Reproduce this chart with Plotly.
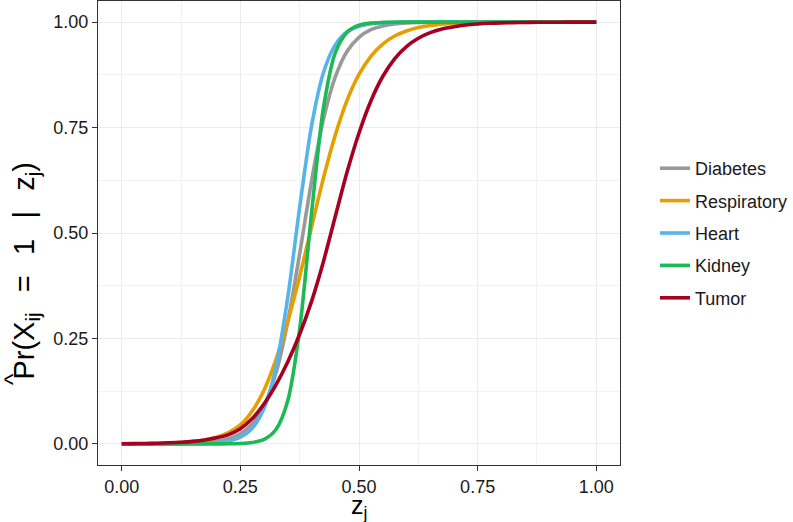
import plotly.graph_objects as go

z = [0.000, 0.025, 0.050, 0.075, 0.100, 0.125, 0.150, 0.175, 0.200, 0.225, 0.250,
     0.275, 0.300, 0.325, 0.350, 0.375, 0.400, 0.425, 0.450, 0.475, 0.500, 0.525,
     0.550, 0.575, 0.600, 0.625, 0.650, 0.675, 0.700, 0.725, 0.750, 0.775, 0.800,
     0.825, 0.850, 0.875, 0.900, 0.925, 0.950, 0.975, 1.000]

diabetes = [0.0000, 0.0001, 0.0001, 0.0002, 0.0004, 0.0007, 0.0015, 0.0030, 0.0061, 0.0121, 0.0241,
            0.0474, 0.0912, 0.168, 0.290, 0.451, 0.623, 0.769, 0.870, 0.931, 0.964, 0.982,
            0.991, 0.9955, 0.9978, 0.9989, 0.9994, 0.9997, 0.9999, 1.0, 1.0, 1.0, 1.0,
            1.0, 1.0, 1.0, 1.0, 1.0, 1.0, 1.0, 1.0]
respiratory = [0.0001, 0.0003, 0.0005, 0.0009, 0.0017, 0.0030, 0.0055, 0.0095, 0.0160, 0.0270, 0.0450,
               0.078, 0.128, 0.200, 0.291, 0.397, 0.514, 0.630, 0.732, 0.815, 0.876, 0.919,
               0.948, 0.967, 0.979, 0.987, 0.992, 0.9949, 0.9969, 0.998, 0.9988, 0.9992, 0.9995,
               0.9997, 0.9998, 0.9999, 0.9999, 0.9999, 0.9999, 1.0, 1.0]
heart = [0.0000, 0.0000, 0.0000, 0.0000, 0.0001, 0.0002, 0.0005, 0.0012, 0.0028, 0.0067, 0.0158,
         0.0372, 0.0847, 0.182, 0.348, 0.561, 0.754, 0.880, 0.946, 0.977, 0.990, 0.996,
         0.998, 0.9993, 0.9997, 1.0, 1.0, 1.0, 1.0, 1.0, 1.0, 1.0, 1.0,
         1.0, 1.0, 1.0, 1.0, 1.0, 1.0, 1.0, 1.0]
kidney = [0.0000, 0.0000, 0.0000, 0.0000, 0.0000, 0.0000, 0.0000, 0.0000, 0.0001, 0.0003, 0.0010,
          0.0034, 0.0109, 0.0342, 0.103, 0.272, 0.547, 0.796, 0.927, 0.976, 0.9925, 0.9977,
          0.9993, 0.9998, 1.0, 1.0, 1.0, 1.0, 1.0, 1.0, 1.0, 1.0, 1.0,
          1.0, 1.0, 1.0, 1.0, 1.0, 1.0, 1.0, 1.0]
tumor = [0.0004, 0.0007, 0.0011, 0.0017, 0.0026, 0.0040, 0.0061, 0.0094, 0.0145, 0.0220, 0.036,
         0.060, 0.095, 0.140, 0.195, 0.260, 0.338, 0.432, 0.539, 0.645, 0.737, 0.813,
         0.871, 0.913, 0.942, 0.9616, 0.975, 0.9837, 0.989, 0.9931, 0.9955, 0.9971, 0.9981,
         0.9988, 0.9992, 0.9995, 0.9997, 0.9998, 0.9999, 0.9999, 0.9999]

series_names = ["Diabetes", "Respiratory", "Heart", "Kidney", "Tumor"]
series_values = [diabetes, respiratory, heart, kidney, tumor]
colors = ["#999999", "#E69F00", "#56B4E9", "#1DB954", "#A50021"]
tick_vals = [0.0, 0.25, 0.5, 0.75, 1.0]
tick_text = ["0.00", "0.25", "0.50", "0.75", "1.00"]

FONT = "Liberation Sans, Arial, Helvetica, sans-serif"

fig = go.Figure()
for name, vals, col in zip(series_names, series_values, colors):
    fig.add_trace(go.Scatter(
        x=z, y=vals, mode="lines", name=name, legendgroup=name,
        line=dict(color=col, width=3.6, shape="spline", smoothing=0.8),
    ))

axis_common = dict(
    range=[-0.05, 1.05], tickvals=tick_vals, ticktext=tick_text,
    showgrid=True, gridcolor="#EBEBEB", gridwidth=1.3,
    minor=dict(showgrid=True, gridcolor="#F2F2F2", gridwidth=0.7, dtick=0.125, tick0=0),
    zeroline=False, showline=True, mirror=True, linecolor="#333333", linewidth=1.2,
    ticks="outside", ticklen=5, tickwidth=1.1, tickcolor="#333333",
    tickfont=dict(family=FONT, size=18, color="#1a1a1a"),
)
fig.update_xaxes(**axis_common)
fig.update_yaxes(**axis_common)

fig.update_layout(
    width=793, height=522,
    margin=dict(l=98, r=172, t=1, b=57),
    plot_bgcolor="white", paper_bgcolor="white",
    showlegend=True,
    legend=dict(
        x=1.066, xanchor="left", y=0.5, yanchor="middle",
        font=dict(family=FONT, size=18, color="#1a1a1a"),
        tracegroupgap=6, itemwidth=30,
        bgcolor="rgba(0,0,0,0)",
    ),
    annotations=[
        dict(text="z<sub>j</sub>", xref="paper", yref="paper", x=0.5, y=-0.052,
             xanchor="center", yanchor="top", showarrow=False,
             font=dict(family=FONT, size=25, color="black")),
        dict(text="Pr(X<sub>ij</sub>\u2002\u2009=\u2002\u20091\u2002\u2009|\u2002\u2009z<sub>j</sub>)",
             xref="paper", yref="paper",
             x=-0.137, y=0.42, xanchor="center", yanchor="middle", textangle=-90,
             showarrow=False, font=dict(family=FONT, size=29, color="black")),
        dict(text="^", xref="paper", yref="paper",
             x=-0.164, y=0.186, xanchor="center", yanchor="middle", textangle=-90,
             showarrow=False, font=dict(family=FONT, size=24, color="black")),
    ],
)

fig.write_html("out.html")
